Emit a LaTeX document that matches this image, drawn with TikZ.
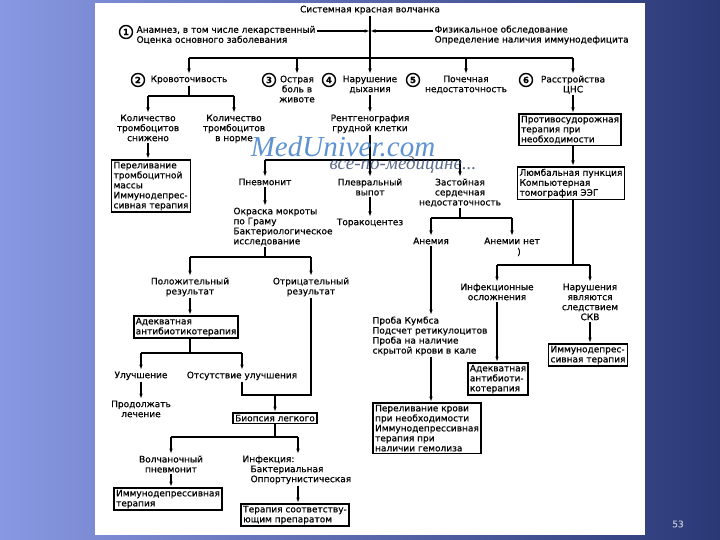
\documentclass[tikz,border=0pt]{standalone}
\usepackage{fontspec}
\setmainfont{DejaVu Sans}[FakeBold=0.6]
\newfontfamily\wmfont{Liberation Serif}
\usetikzlibrary{arrows.meta}
\definecolor{slidelight}{RGB}{136,152,226}
\definecolor{slidedark}{RGB}{42,56,118}
\definecolor{wmblue}{RGB}{66,128,200}
\definecolor{wmgray}{RGB}{66,82,120}
\tikzset{
  lbl/.style={align=center, inner sep=1pt, font=\fontsize{9}{10}\selectfont},
  lbll/.style={lbl, align=left},
  boxed/.style={lbll, draw, line width=1.6pt, inner sep=2pt},
  num/.style={circle, draw, line width=1.4pt, inner sep=0pt, minimum size=13pt, font=\bfseries\fontsize{8.5}{8.5}\selectfont},
  arr/.style={-{Latex[length=5.5pt,width=3.6pt]}},
}
\begin{document}
\begin{tikzpicture}[x=1pt, y=-1pt, line width=1.2pt]
  \useasboundingbox (0,0) rectangle (720,540);
  % slide
  \shade[left color=slidelight, right color=slidedark] (0,0) rectangle (720,540);
  \fill[white] (95,3) rectangle (645,535);
  \node[text=white!70!slidedark, font=\fontsize{9}{9}\selectfont] (pg) at (678,524) {53};

  % top
  \node[lbl] (sle) at (370,10) {Системная красная волчанка};
  \node[num] (k1) at (126,32) {1};
  \node[lbll, anchor=west] (anam) at (135,35) {Анамнез, в том числе лекарственный\\Оценка основного заболевания};
  \node[lbll, anchor=west] (fiz) at (433,35) {Физикальное обследование\\Определение наличия иммунодефицита};

  % row of problems
  \node[lbl, anchor=north] (n2) at (189,74) {Кровоточивость};
  \node[lbl, anchor=north] (n3) at (297,74) {Острая\\боль в\\животе};
  \node[lbl, anchor=north] (n4) at (370,74) {Нарушение\\дыхания};
  \node[lbl, anchor=north] (n5) at (466,74) {Почечная\\недостаточность};
  \node[lbl, anchor=north] (n6) at (573,74) {Расстройства\\ЦНС};
  \node[num] (k2) at (138,80) {2};
  \node[num] (k3) at (269,80) {3};
  \node[num] (k4) at (329,80) {4};
  \node[num] (k5) at (413,80) {5};
  \node[num] (k6) at (526,80) {6};

  % bleeding
  \node[lbl, anchor=north] (plt1) at (148,113) {Количество\\тромбоцитов\\снижено};
  \node[lbl, anchor=north] (plt2) at (234,113) {Количество\\тромбоцитов\\в норме};
  \node[boxed, anchor=north] (box1) at (151,159) {Переливание\\тромбоцитной\\массы\\Иммунодепрес-\\сивная терапия};

  % breathing
  \node[lbl, anchor=north] (rtg) at (370,113) {Рентгенография\\грудной клетки};
  \node[lbl, anchor=north] (pnm) at (265,177) {Пневмонит};
  \node[lbl, anchor=north] (plv) at (370,177) {Плевральный\\выпот};
  \node[lbl, anchor=north] (zsn) at (460,177) {Застойная\\сердечная\\недостаточность};
  \node[lbll, anchor=north] (okr) at (283,206) {Окраска мокроты\\по Граму\\Бактериологическое\\исследование};
  \node[lbl, anchor=north] (tor) at (370,217) {Торакоцентез};
  \node[lbl, anchor=north] (anem) at (431,236) {Анемия};
  \node[lbl, anchor=north] (anno) at (512,236) {Анемии нет};
  \node[lbl] (paren) at (519,252) {)};
  \node[lbll, anchor=north] (coombs) at (430,315) {Проба Кумбса\\Подсчет ретикулоцитов\\Проба на наличие\\скрытой крови в кале};
  \node[boxed, anchor=north] (box6) at (427,402) {Переливание крови\\при необходимости\\Иммунодепрессивная\\терапия при\\наличии гемолиза};

  % pneumonitis
  \node[lbl, anchor=north] (pos) at (190,276) {Положительный\\результат};
  \node[lbl, anchor=north] (neg) at (311,276) {Отрицательный\\результат};
  \node[boxed, anchor=north] (box7) at (186,315) {Адекватная\\антибиотикотерапия};
  \node[lbl, anchor=north] (imp) at (141,370) {Улучшение};
  \node[lbl, anchor=north] (noimp) at (242,370) {Отсутствие улучшения};
  \node[lbl, anchor=north] (cont) at (141,399) {Продолжать\\лечение};
  \node[boxed, anchor=north] (bio) at (275,412) {Биопсия легкого};
  \node[lbl, anchor=north] (lup) at (171,454) {Волчаночный\\пневмонит};
  \node[lbll, anchor=north west] (infc) at (241,454) {Инфекция:\\\hspace*{8pt}Бактериальная\\\hspace*{8pt}Оппортунистическая};
  \node[boxed, anchor=north] (box8) at (168,487) {Иммунодепрессивная\\терапия};
  \node[boxed, anchor=north] (box9) at (295,503) {Терапия соответству-\\ющим препаратом};

  % CNS
  \node[boxed, anchor=north] (box2) at (570,113) {Противосудорожная\\терапия при\\необходимости};
  \node[boxed, anchor=north] (box3) at (571,166) {Люмбальная пункция\\Компьютерная\\томография ЭЭГ};
  \node[lbl, anchor=north] (inf) at (497,282) {Инфекционные\\осложнения};
  \node[lbl, anchor=north] (skv) at (590,282) {Нарушения\\являются\\следствием\\СКВ};
  \node[boxed, anchor=north] (box4) at (588,343) {Иммунодепрес-\\сивная терапия};
  \node[boxed, anchor=north] (box5) at (498,362) {Адекватная\\антибиоти-\\котерапия};

  % junctions
  \coordinate (b1) at (370,58);
  \coordinate (b2) at (189,96);
  \coordinate (b3) at (370,160);
  \coordinate (b4) at (460,218);
  \coordinate (b5) at (265,257);
  \coordinate (b6) at (573,265);
  \coordinate (b7) at (190,353);
  \coordinate (b8) at (275,395);
  \coordinate (b9) at (275,437);
  \coordinate (b9r) at (298,437);

  % connectors
  \draw[arr] (sle.south) -- (n4.north);
  \draw[arr] ([yshift=4pt]anam.east) -- ([yshift=4pt]anam.east -| sle);
  \draw[arr] ([yshift=4pt]fiz.west) -- ([yshift=4pt]fiz.west -| sle);
  \draw (n2 |- b1) -- (n6 |- b1);
  \foreach \n in {n2,n3,n5,n6}
    \draw[arr] (\n |- b1) -- (\n.north);

  \draw (n2.south) -- (b2);
  \draw (plt1 |- b2) -- (plt2 |- b2);
  \draw[arr] (plt1 |- b2) -- (plt1.north);
  \draw[arr] (plt2 |- b2) -- (plt2.north);
  \draw[arr] (plt1.south) -- (plt1.south |- box1.north);

  \draw[arr] (n4.south) -- (rtg.north);
  \draw (rtg.south) -- (b3);
  \draw (pnm |- b3) -- (zsn |- b3);
  \foreach \n in {pnm,plv,zsn}
    \draw[arr] (\n |- b3) -- (\n.north);
  \draw[arr] (pnm.south) -- (pnm.south |- okr.north);
  \draw[arr] (plv.south) -- (tor.north);
  \draw (zsn.south) -- (b4);
  \draw (anem |- b4) -- (anno |- b4);
  \draw[arr] (anem |- b4) -- (anem.north);
  \draw[arr] (anno |- b4) -- (anno.north);
  \draw[arr] (anem.south) -- (anem.south |- coombs.north);
  \draw[arr] (coombs.south -| anem) -- (anem |- box6.north);

  \draw (okr.south -| pnm) -- (b5);
  \draw (pos |- b5) -- (neg |- b5);
  \draw[arr] (pos |- b5) -- (pos.north);
  \draw[arr] (neg |- b5) -- (neg.north);
  \draw[arr] (pos.south) -- (pos.south |- box7.north);
  \draw (box7.south -| pos) -- (pos |- b7);
  \draw (imp |- b7) -- (noimp |- b7);
  \draw[arr] (imp |- b7) -- (imp.north);
  \draw[arr] (noimp |- b7) -- (noimp.north);
  \draw[arr] (imp.south) -- (cont.north);
  \draw (noimp.south) -- (noimp.south |- b8) -- (neg.south |- b8) -- (neg.south);
  \draw[arr] (b8) -- (bio.north);
  \draw (bio.south) -- (b9);
  \draw (lup |- b9) -- (b9r);
  \draw[arr] (lup |- b9) -- (lup.north);
  \draw[arr] (b9r) -- (b9r |- infc.north);
  \draw[arr] (lup.south) -- (lup.south |- box8.north);
  \draw[arr] (b9r |- infc.south) -- (b9r |- box9.north);

  \draw[arr] (n6.south) -- (n6.south |- box2.north);
  \draw[arr] (box2.south -| n6) -- (n6 |- box3.north);
  \draw (box3.south -| n6) -- (b6);
  \draw (inf |- b6) -- (skv |- b6);
  \draw[arr] (inf |- b6) -- (inf.north);
  \draw[arr] (skv |- b6) -- (skv.north);
  \draw[arr] (skv.south) -- (skv.south |- box4.north);
  \draw[arr] (inf.south) -- (inf.south |- box5.north);

  % watermark
  \node[font=\wmfont\itshape\fontsize{29}{29}\selectfont, text=wmblue, opacity=0.85] (wm1) at (343,147) {MedUniver.com};
  \node[font=\wmfont\itshape\fontsize{19}{19}\selectfont, text=wmgray, opacity=0.85] (wm2) at (403,165) {все-по-медицине...};
\end{tikzpicture}
\end{document}
